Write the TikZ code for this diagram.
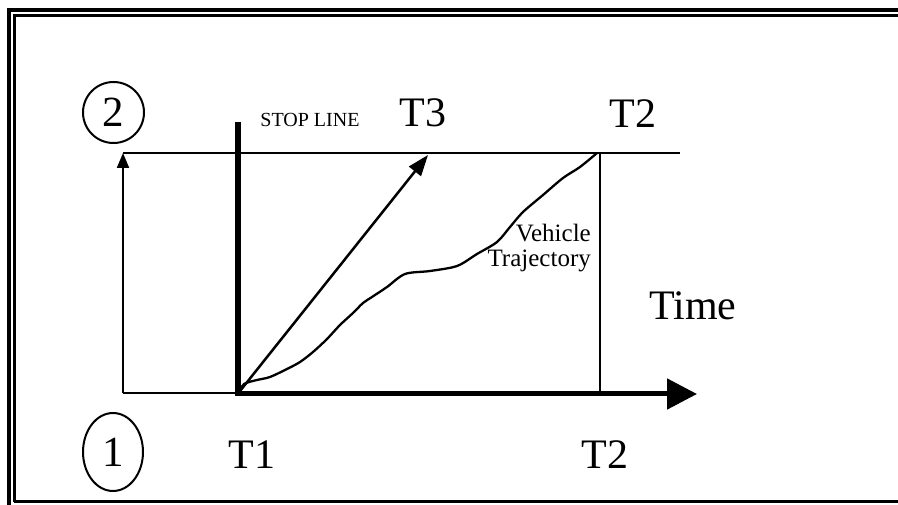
\documentclass[tikz,border=0pt]{standalone}
\usepackage{fontspec}
\setmainfont{Liberation Serif}
\usetikzlibrary{arrows.meta,shapes.geometric}
\begin{document}
\begin{tikzpicture}[x=1pt,y=-1pt,
  biglbl/.style={inner sep=0pt, anchor=base, font=\fontsize{42}{42}\selectfont},
  smalllbl/.style={inner sep=0pt, anchor=base east, font=\fontsize{25}{25}\selectfont},
  stoplbl/.style={inner sep=0pt, anchor=base, font=\fontsize{20}{20}\selectfont},
  numcirc/.style={draw, line width=2pt, inner sep=0pt, font=\fontsize{43}{43}\selectfont},
]
\useasboundingbox (0,0) rectangle (898,505);
\fill[white] (0,0) rectangle (898,505);
% frame
\draw[line width=4pt] (8.5,505) -- (8.5,10) -- (898,10);
\draw[line width=3pt] (14,501.5) -- (14,16) -- (898,16);
\draw[line width=3.5pt] (14,501.5) -- (898,501.5);

% key coordinates
\coordinate (O) at (238,393.5);
\coordinate (SLtop) at (238,122);
\coordinate (SLbot) at (238,396);
\coordinate (L0) at (123,393);
\coordinate (L1) at (123,153);
\coordinate (S0) at (238,393);
\coordinate (TopR) at (680,153);
\coordinate (R0) at (600,153);
\coordinate (R1) at (600,393);
\coordinate (A0) at (238,394);
\coordinate (AxEnd) at (697,394);
\coordinate (T3tip) at (428,155);

% lines
\draw[line width=1.5pt] (L0) -- (S0);
\draw[line width=2pt, -{Triangle[length=15pt,width=12pt]}] (L0) -- (L1);
\draw[line width=2.5pt] (L1) -- (TopR);
\draw[line width=2.5pt] (R0) -- (R1);
\draw[line width=5.5pt] (SLtop) -- (SLbot);
\draw[line width=5pt, -{Triangle[length=30pt,width=30pt]}] (A0) -- (AxEnd);
\draw[line width=2.5pt, -{Triangle[length=21pt,width=15pt]}] (O) -- (T3tip);

% trajectory
\draw[line width=2.3pt, line join=round] plot[smooth, tension=0.5] coordinates {
 (240,392) (244,384) (257,380) (270,377) (287,369) (300,362) (313,352) (327,339)
 (340,325) (353,313) (363,303) (372,297) (387,287) (405,274) (430,271) (457,266) (477,254)
 (497,242) (510,227) (523,212) (543,195) (563,178) (580,167) (597,153)};

% labels
\node[numcirc, circle, minimum size=61pt] (c2) at (113.5,112.5) {2};
\node[numcirc, ellipse, minimum width=60pt, minimum height=78pt] (c1) at (113,452) {1};
\node[stoplbl] (stop) at (310,127) {STOP LINE};
\node[biglbl] (t3) at (423,127) {T3};
\node[biglbl] (t2a) at (633,128) {T2};
\node[biglbl] (time) at (693,320) {Time};
\node[biglbl] (t1) at (252,468) {T1};
\node[biglbl] (t2b) at (605,468) {T2};
\node[smalllbl] (veh) at (591,242) {Vehicle};
\node[smalllbl] (traj) at (591,267) {Trajectory};
\end{tikzpicture}
\end{document}
